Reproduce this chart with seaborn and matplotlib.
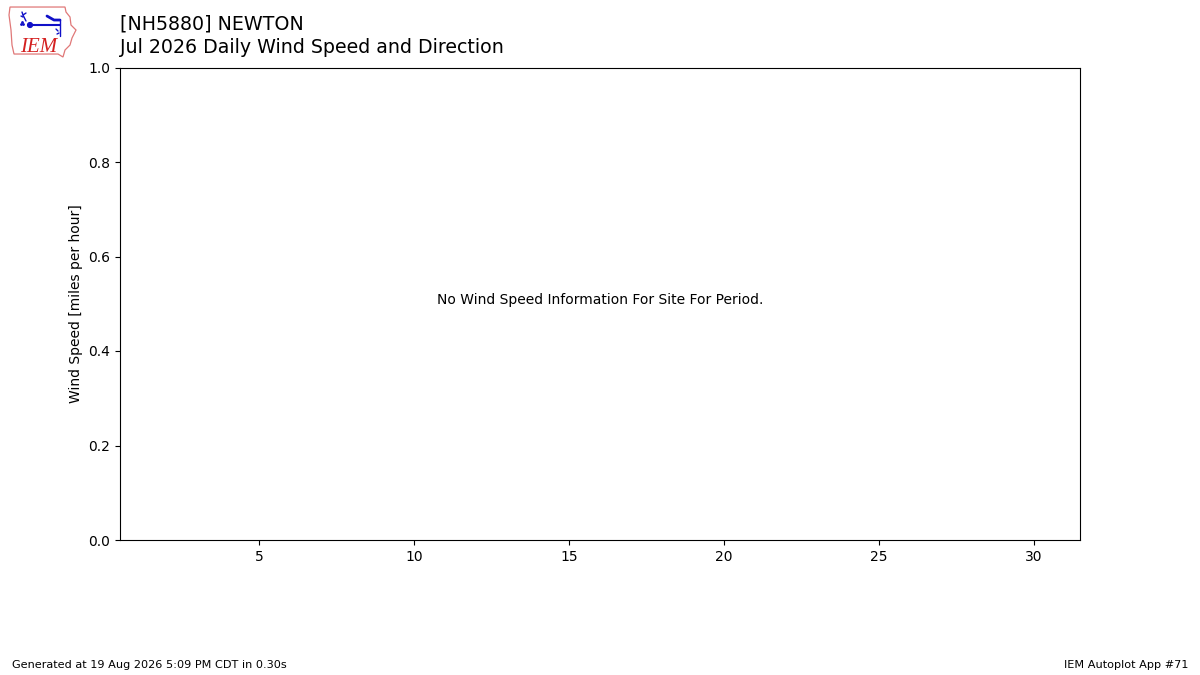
import matplotlib
matplotlib.use("Agg")
import matplotlib.pyplot as plt
import seaborn as sns
import pandas as pd
from matplotlib.patches import Polygon, Circle

# station / period info
station = "[NH5880] NEWTON"
period = "Jul 2026 Daily Wind Speed and Direction"
days = list(range(1, 32))
speeds = []  # no observations for this period
footer_left = "Generated at 19 Aug 2026 5:09 PM CDT in 0.30s"
footer_right = "IEM Autoplot App #71"
message = "No Wind Speed Information For Site For Period."

sns.set_theme(style="ticks", rc={
    "axes.edgecolor": "black",
    "axes.linewidth": 0.8,
    "text.color": "black",
    "axes.labelcolor": "black",
    "xtick.color": "black",
    "ytick.color": "black",
    "xtick.major.size": 3.5,
    "ytick.major.size": 3.5,
    "xtick.major.width": 0.8,
    "ytick.major.width": 0.8,
    "xtick.labelsize": 10,
    "ytick.labelsize": 10,
    "axes.labelsize": 10,
    "font.size": 10,
})
plt.rcParams["font.family"] = ["DejaVu Sans"]

fig = plt.figure(figsize=(12, 6.75), dpi=100)
ax = fig.add_axes([0.1, 0.2, 0.8, 0.7])

df = pd.DataFrame({"day": days[:len(speeds)], "speed": speeds})
if len(df):
    sns.barplot(data=df, x="day", y="speed", ax=ax)
else:
    ax.text(0.5, 0.5, message, transform=ax.transAxes, ha="center", fontsize=10)

ax.set_xlim(days[0] - 0.5, days[-1] + 0.5)
ax.set_ylim(0, 1)
ax.set_xticks([5, 10, 15, 20, 25, 30])
ax.set_yticks([0, 0.2, 0.4, 0.6, 0.8, 1.0])
ax.set_ylabel("Wind Speed [miles per hour]")
for s in ax.spines.values():
    s.set_visible(True)

fig.text(0.1, 0.978, station + "\n" + period, va="top", ha="left",
         fontsize=13.7, linespacing=1.3)
fig.text(0.01, 0.01, footer_left, fontsize=8.1)
fig.text(0.99, 0.01, footer_right, fontsize=8.1, ha="right")

# rough IEM logo, drawn in pixel coordinates
lax = fig.add_axes([0.006, 0.913, 0.06, 0.08])
lax.set_xlim(7.2, 79.2)
lax.set_ylim(58.7, 4.7)
lax.axis("off")
iowa = [(10, 7), (65, 7), (66, 12), (70, 17), (71, 25), (76, 30), (72, 38),
        (70, 45), (65, 50), (63, 57), (58, 54), (14, 54), (12, 45), (11, 30),
        (9, 15)]
blue = "#1010c8"
lax.add_patch(Polygon(iowa, closed=True, fill=False, ec="#e07878", lw=0.9))
lax.plot([29, 60], [25, 25], color=blue, lw=1.5)
lax.add_patch(Circle((30, 25), 2.4, color=blue))
lax.plot([26, 23, 22], [21, 15, 12], color=blue, lw=1)
lax.plot([23, 26], [15, 13], color=blue, lw=1)
lax.plot([21, 23], [16, 17], color=blue, lw=1)
lax.plot([47, 54, 60], [16, 20, 20], color=blue, lw=2)
lax.plot([60, 60], [20, 36], color=blue, lw=1)
lax.plot([56, 58], [29, 31], color=blue, lw=1)
lax.plot([57, 59], [34, 33], color=blue, lw=1)
lax.plot([21, 22, 23], [24, 22, 24], ls="none", marker="o", ms=1, color=blue)
lax.text(20, 52, "IEM", color="#d42020", fontsize=15, family="Liberation Serif",
         style="italic", va="baseline")

fig.savefig("out.png", dpi=100)
